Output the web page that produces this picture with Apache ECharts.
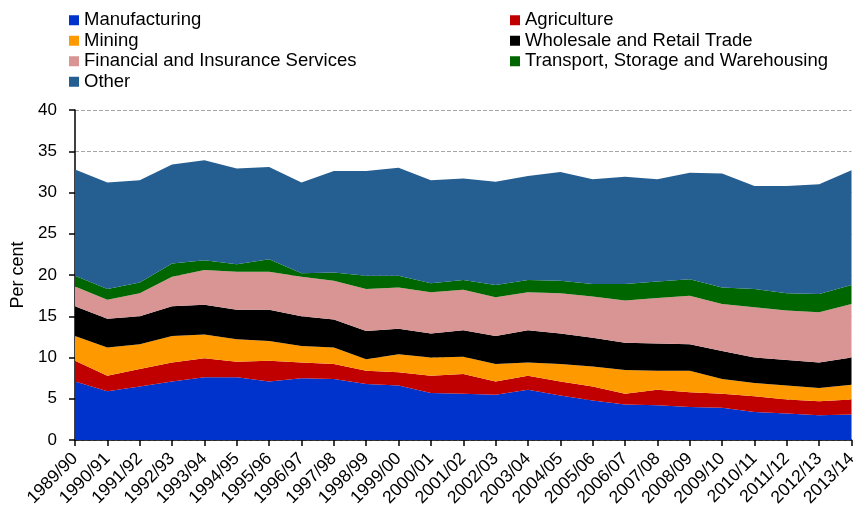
<!DOCTYPE html>
<html>
<head>
<meta charset="utf-8">
<script src="https://cdn.jsdelivr.net/npm/echarts@6/dist/echarts.min.js"></script>
<style>
    html, body { margin: 0; padding: 0; background: #fff; }
    #chart { width: 860px; height: 513px; }
</style>
</head>
<body>
<div id="chart"></div>
<script>
const years = ['1989/90', '1990/91', '1991/92', '1992/93', '1993/94', '1994/95', '1995/96', '1996/97',
    '1997/98', '1998/99', '1999/00', '2000/01', '2001/02', '2002/03', '2003/04', '2004/05', '2005/06',
    '2006/07', '2007/08', '2008/09', '2009/10', '2010/11', '2011/12', '2012/13', '2013/14'];

const manufacturing = [7.1, 5.9, 6.5, 7.1, 7.6, 7.6, 7.1, 7.5, 7.4, 6.8, 6.6, 5.7, 5.6, 5.5, 6.1, 5.4, 4.8, 4.3, 4.2, 4.0, 3.9, 3.4, 3.2, 3.0, 3.1];
const agriculture = [2.5, 1.9, 2.1, 2.3, 2.3, 1.9, 2.5, 1.9, 1.8, 1.6, 1.6, 2.1, 2.4, 1.6, 1.7, 1.7, 1.7, 1.3, 1.9, 1.8, 1.7, 1.9, 1.7, 1.7, 1.8];
const mining = [3.0, 3.4, 3.0, 3.2, 2.9, 2.7, 2.4, 2.0, 2.0, 1.4, 2.2, 2.2, 2.1, 2.1, 1.6, 2.1, 2.4, 2.9, 2.3, 2.6, 1.8, 1.6, 1.7, 1.6, 1.8];
const wholesale = [3.6, 3.5, 3.4, 3.6, 3.6, 3.6, 3.8, 3.6, 3.4, 3.4, 3.1, 2.9, 3.2, 3.4, 3.9, 3.7, 3.5, 3.3, 3.3, 3.2, 3.4, 3.1, 3.1, 3.1, 3.3];
const financial = [2.4, 2.3, 2.8, 3.6, 4.2, 4.6, 4.6, 4.8, 4.7, 5.1, 5.0, 5.0, 4.9, 4.7, 4.6, 4.9, 5.0, 5.1, 5.5, 5.9, 5.7, 6.1, 6.0, 6.1, 6.5];
const transport = [1.3, 1.3, 1.3, 1.6, 1.2, 0.9, 1.5, 0.4, 1.0, 1.6, 1.4, 1.1, 1.2, 1.5, 1.5, 1.5, 1.5, 2.0, 2.0, 2.0, 2.0, 2.2, 2.1, 2.2, 2.3];
const other = [12.9, 12.9, 12.4, 12.0, 12.1, 11.6, 11.2, 11.0, 12.3, 12.7, 13.1, 12.5, 12.3, 12.5, 12.6, 13.2, 12.7, 13.0, 12.4, 12.9, 13.8, 12.5, 13.0, 13.3, 13.9];

const seriesList = [
    {name: 'Manufacturing', data: manufacturing, color: '#0033CC'},
    {name: 'Agriculture', data: agriculture, color: '#C00000'},
    {name: 'Mining', data: mining, color: '#FF9900'},
    {name: 'Wholesale and Retail Trade', data: wholesale, color: '#000000'},
    {name: 'Financial and Insurance Services', data: financial, color: '#D99594'},
    {name: 'Transport, Storage and Warehousing', data: transport, color: '#006600'},
    {name: 'Other', data: other, color: '#255E91'}
];

const font = 'Liberation Sans, Arial, sans-serif';
const legendText = {
    fontFamily: font,
    fontSize: 18.5,
    color: '#000',
    lineHeight: 20.5
};

const chart = echarts.init(document.getElementById('chart'));
chart.setOption({
    animation: false,
    legend: [
        {
            left: 69,
            top: 10,
            orient: 'vertical',
            icon: 'rect',
            itemWidth: 10,
            itemHeight: 10,
            itemGap: 0,
            padding: 0,
            data: ['Manufacturing', 'Mining', 'Financial and Insurance Services', 'Other'],
            textStyle: legendText
        },
        {
            left: 510,
            top: 10,
            orient: 'vertical',
            icon: 'rect',
            itemWidth: 10,
            itemHeight: 10,
            itemGap: 0,
            padding: 0,
            data: ['Agriculture', 'Wholesale and Retail Trade', 'Transport, Storage and Warehousing'],
            textStyle: legendText
        }
    ],
    grid: {
        left: 75,
        right: 8,
        top: 110,
        bottom: 73
    },
    xAxis: {
        type: 'category',
        boundaryGap: false,
        data: years,
        axisLine: {lineStyle: {color: '#000', width: 1.5}},
        axisTick: {length: 6, lineStyle: {color: '#000', width: 1.5}},
        axisLabel: {
            interval: 0,
            rotate: 45,
            margin: 16,
            fontFamily: font,
            fontSize: 17.5,
            color: '#000'
        }
    },
    yAxis: {
        type: 'value',
        min: 0,
        max: 40,
        interval: 5,
        name: 'Per cent',
        nameLocation: 'middle',
        nameGap: 47,
        nameTextStyle: {fontFamily: font, fontSize: 18, color: '#000'},
        axisLine: {show: true, lineStyle: {color: '#000', width: 1.5}},
        axisTick: {show: true, length: 6, lineStyle: {color: '#000', width: 1.5}},
        axisLabel: {margin: 18, fontFamily: font, fontSize: 17, color: '#000'},
        splitLine: {lineStyle: {color: '#A6A6A6', type: 'dashed', width: 1}}
    },
    series: seriesList.map(s => ({
        name: s.name,
        type: 'line',
        stack: 'total',
        data: s.data,
        color: s.color,
        showSymbol: false,
        symbol: 'none',
        lineStyle: {width: 0},
        areaStyle: {color: s.color, opacity: 1}
    }))
});
</script>
</body>
</html>
